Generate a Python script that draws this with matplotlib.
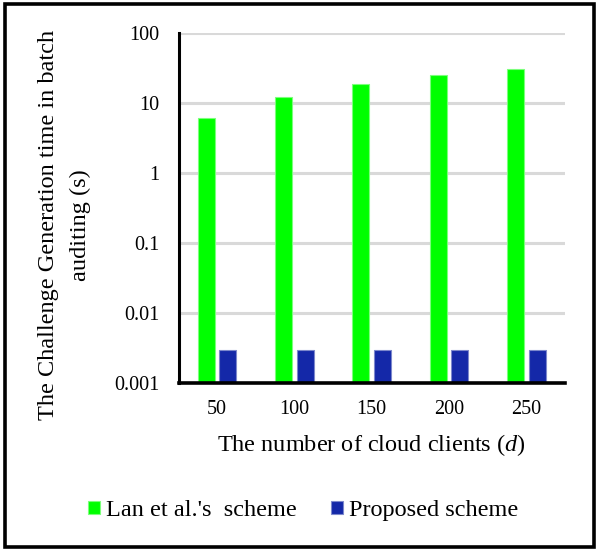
import numpy as np
import matplotlib
matplotlib.use('Agg')
from matplotlib import pyplot as plt
from matplotlib.patches import Rectangle

# data
clients = ['50', '100', '150', '200', '250']
lan_scheme = [6.3, 12.5, 18.8, 25.5, 31.4]
proposed_scheme = [0.003, 0.003, 0.003, 0.003, 0.003]
y_ticks = [0.001, 0.01, 0.1, 1, 10, 100]
y_tick_labels = ['0.001', '0.01', '0.1', '1', '10', '100']

plt.rcParams['font.family'] = ['Liberation Serif', 'DejaVu Serif']
plt.rcParams['mathtext.fontset'] = 'custom'
plt.rcParams['mathtext.it'] = 'Liberation Serif:italic'
plt.rcParams['mathtext.rm'] = 'Liberation Serif'

fig = plt.figure(figsize=(6.0, 5.49), dpi=100)
ax = fig.add_axes([0.2975, 0.3015, 0.6442, 0.6375])

x = np.arange(len(clients))
w = 0.22
off = 0.14
ax.bar(x - off, lan_scheme, width=w, color='#00FF00', edgecolor='#7CFF7C', linewidth=0.8,
       label="Lan et al.'s  scheme", zorder=3)
ax.bar(x + off, proposed_scheme, width=w, color='#1428A8', edgecolor='#7D88CC', linewidth=0.8,
       label='Proposed scheme', zorder=3)

ax.set_yscale('log')
ax.set_ylim(0.001, 100)
ax.set_xlim(-0.5, len(clients) - 0.5)
ax.set_yticks(y_ticks)
ax.set_yticklabels(y_tick_labels)
ax.minorticks_off()
ax.set_xticks(x)
ax.set_xticklabels(clients)
ax.tick_params(axis='both', length=0, labelsize=14.5)
ax.tick_params(axis='y', pad=14)
ax.tick_params(axis='x', pad=12)

ax.grid(axis='y', color='#D9D9D9', linewidth=2.2, zorder=0)
for s in ['top', 'right']:
    ax.spines[s].set_visible(False)
ax.spines['left'].set_linewidth(2.2)
ax.spines['bottom'].set_linewidth(2.6)
ax.spines['left'].set_zorder(4)
ax.spines['bottom'].set_zorder(4)

ax.set_xlabel('The number of cloud clients ($d$)', fontsize=17.5, labelpad=9)
ax.set_ylabel('The Challenge Generation time in batch\nauditing (s)', fontsize=17.5,
              linespacing=1.7)
ax.yaxis.set_label_coords(-0.226, 0.453)

fig.legend(loc='center', bbox_to_anchor=(0.505, 0.07), ncol=2, frameon=False, fontsize=17.5,
           handlelength=0.5, handleheight=0.5, handletextpad=0.25, columnspacing=1.4)

fig.patches.append(Rectangle((0.0075, 0.0045), 0.9825, 0.989, transform=fig.transFigure,
                             fill=False, edgecolor='black', linewidth=2.6))

fig.savefig('out.png', dpi=100)
